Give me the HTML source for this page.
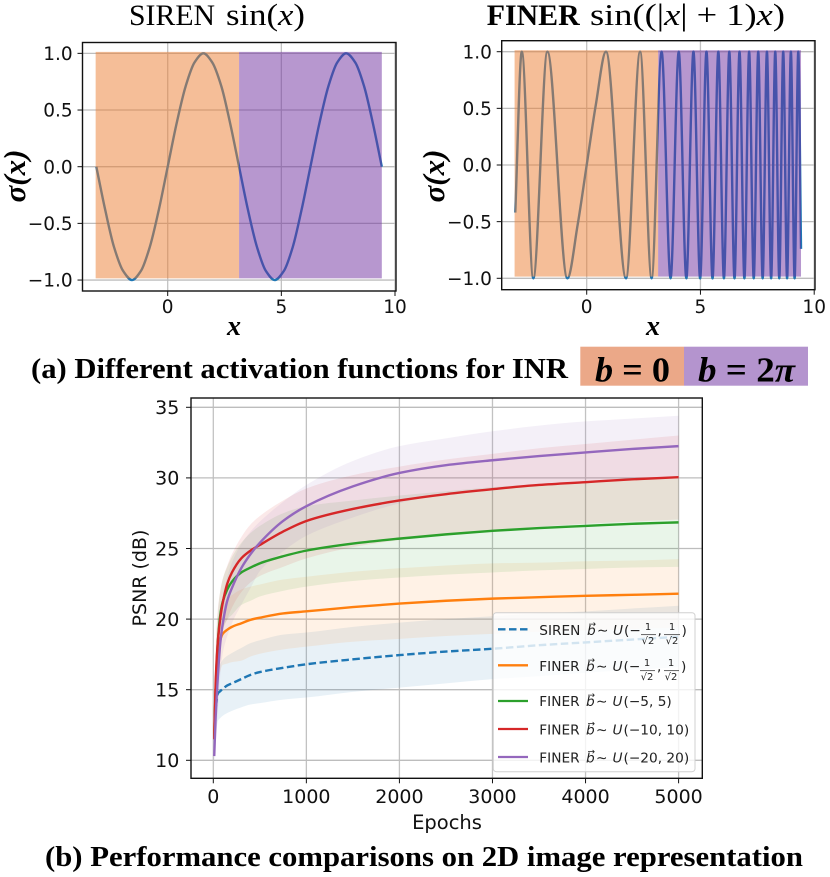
<!DOCTYPE html>
<html lang="en">
<head>
<meta charset="utf-8">
<title>SIREN vs FINER activation functions and PSNR comparison</title>
<style>
html,body{margin:0;padding:0;background:#fff;}
body{width:830px;height:877px;overflow:hidden;}
svg{display:block;filter:blur(0.35px);}
.serif{font-family:"Liberation Serif",serif;fill:#000;}
.dv{font-family:"DejaVu Sans",sans-serif;fill:#111;}
.lg{font-family:"DejaVu Sans",sans-serif;fill:#222;font-size:13.7px;}
.lgi{font-family:"DejaVu Sans",sans-serif;font-style:italic;fill:#222;font-size:13.7px;}
.fr{font-family:"DejaVu Sans",sans-serif;fill:#222;font-size:10px;text-anchor:middle;}
</style>
</head>
<body>
<svg id="figure" width="830" height="877" viewBox="0 0 830 877" xmlns="http://www.w3.org/2000/svg">
  <g id="chart-siren"></g>
  <g id="chart-finer"></g>
  <g id="chart-psnr"></g>

  <text class="serif" x="129" y="25" font-size="30" textLength="86" lengthAdjust="spacingAndGlyphs">SIREN</text>
  <text class="serif" x="226" y="25" font-size="31" textLength="79" lengthAdjust="spacingAndGlyphs">sin(<tspan font-style="italic">x</tspan>)</text>
  <text class="serif" x="486.7" y="25" font-size="30" font-weight="bold" textLength="93" lengthAdjust="spacingAndGlyphs">FINER</text>
  <text class="serif" x="590" y="25" font-size="31" textLength="195" lengthAdjust="spacingAndGlyphs">sin((|<tspan font-style="italic">x</tspan>| + 1)<tspan font-style="italic">x</tspan>)</text>

  <text class="serif" transform="translate(25,176) rotate(-90)" text-anchor="middle" font-size="31" font-weight="bold" font-style="italic">σ(x)</text>
  <text class="serif" transform="translate(444,176) rotate(-90)" text-anchor="middle" font-size="31" font-weight="bold" font-style="italic">σ(x)</text>
  <text class="serif" x="234" y="335" text-anchor="middle" font-size="28" font-weight="bold" font-style="italic">x</text>
  <text class="serif" x="653" y="335" text-anchor="middle" font-size="28" font-weight="bold" font-style="italic">x</text>

  <text class="serif" x="31" y="378" font-size="29" font-weight="bold" textLength="537" lengthAdjust="spacingAndGlyphs">(a) Different activation functions for INR</text>
  <g>
    <rect x="580.3" y="346.7" width="103.7" height="39" fill="#eba888"/>
    <rect x="684" y="346.7" width="124" height="39" fill="#b494ce"/>
    <text class="serif" x="595" y="381.5" font-size="35" font-weight="bold" textLength="75" lengthAdjust="spacingAndGlyphs"><tspan font-style="italic">b</tspan> = 0</text>
    <text class="serif" x="698" y="381.5" font-size="35" font-weight="bold" textLength="97" lengthAdjust="spacingAndGlyphs"><tspan font-style="italic">b</tspan> = 2<tspan font-style="italic">π</tspan></text>
  </g>
  <text class="serif" x="45" y="866" font-size="29" font-weight="bold" textLength="758" lengthAdjust="spacingAndGlyphs">(b) Performance comparisons on 2D image representation</text>

  <text class="dv" transform="translate(146,578) rotate(-90)" text-anchor="middle" font-size="19">PSNR (dB)</text>
  <text class="dv" x="447" y="829" text-anchor="middle" font-size="19.5">Epochs</text>

  <g id="legend">
    <rect x="493.3" y="612.7" width="201.7" height="159" rx="3" fill="#fff" fill-opacity="0.8" stroke="#d0d0d0" stroke-width="1"/>
    <g>
      <line x1="498" x2="528" y1="629.3" y2="629.3" stroke="#1f77b4" stroke-width="2.3" stroke-dasharray="7.5 3.5"/>
      <text class="lg" x="539.3" y="635">SIREN</text>
      <text class="lgi" x="587" y="635">b</text><text class="lg" x="588.5" y="627" style="font-size:9px">→</text>
      <text class="lg" x="597" y="635">∼</text><text class="lgi" x="613" y="635">U</text><text class="lg" x="624" y="635">(−</text>
      <text class="fr" x="648" y="630">1</text><line x1="641" x2="656" y1="634.7" y2="634.7" stroke="#222" stroke-width="0.7"/><text class="fr" x="648" y="644">√2</text>
      <text class="lg" x="657.5" y="635">,</text>
      <text class="fr" x="672" y="630">1</text><line x1="664" x2="680" y1="634.7" y2="634.7" stroke="#222" stroke-width="0.7"/><text class="fr" x="672" y="644">√2</text>
      <text class="lg" x="681.5" y="635">)</text>
    </g>
    <g>
      <line x1="498" x2="528" y1="665.3" y2="665.3" stroke="#ff7f0e" stroke-width="2.3"/>
      <text class="lg" x="539.3" y="671">FINER</text>
      <text class="lgi" x="586" y="671">b</text><text class="lg" x="587.5" y="663" style="font-size:9px">→</text>
      <text class="lg" x="596" y="671">∼</text><text class="lgi" x="612.5" y="671">U</text><text class="lg" x="623.5" y="671">(−</text>
      <text class="fr" x="647" y="666">1</text><line x1="640" x2="655" y1="670.7" y2="670.7" stroke="#222" stroke-width="0.7"/><text class="fr" x="647" y="680">√2</text>
      <text class="lg" x="657" y="671">,</text>
      <text class="fr" x="671" y="666">1</text><line x1="664" x2="679" y1="670.7" y2="670.7" stroke="#222" stroke-width="0.7"/><text class="fr" x="671" y="680">√2</text>
      <text class="lg" x="681" y="671">)</text>
    </g>
    <g>
      <line x1="498" x2="528" y1="701" y2="701" stroke="#2ca02c" stroke-width="2.3"/>
      <text class="lg" x="539.3" y="706">FINER</text>
      <text class="lgi" x="586" y="706">b</text><text class="lg" x="587.5" y="698" style="font-size:9px">→</text>
      <text class="lg" x="596" y="706">∼</text><text class="lgi" x="612.5" y="706">U</text><text class="lg" x="623.5" y="706">(−5, 5)</text>
    </g>
    <g>
      <line x1="498" x2="528" y1="729" y2="729" stroke="#d62728" stroke-width="2.3"/>
      <text class="lg" x="539.3" y="734.3">FINER</text>
      <text class="lgi" x="586" y="734.3">b</text><text class="lg" x="587.5" y="726.3" style="font-size:9px">→</text>
      <text class="lg" x="596" y="734.3">∼</text><text class="lgi" x="612.5" y="734.3">U</text><text class="lg" x="623.5" y="734.3">(−10, 10)</text>
    </g>
    <g>
      <line x1="498" x2="528" y1="757" y2="757" stroke="#9467bd" stroke-width="2.3"/>
      <text class="lg" x="539.3" y="762.3">FINER</text>
      <text class="lgi" x="586" y="762.3">b</text><text class="lg" x="587.5" y="754.3" style="font-size:9px">→</text>
      <text class="lg" x="596" y="762.3">∼</text><text class="lgi" x="612.5" y="762.3">U</text><text class="lg" x="623.5" y="762.3">(−20, 20)</text>
    </g>
  </g>
</svg>
<script>
// ---- activation chart data ----
const activationXTicks = [0, 5, 10];
const activationYTicks = [-1, -0.5, 0, 0.5, 1];
const activationYLabels = ["−1.0", "−0.5", "0.0", "0.5", "1.0"];
const regionEdges = [-3.17, 3.14, 9.42];
const regionTop = 1.013;
const regionBottom = -0.985;
const sirenX = [-3.14,-2.75,-2.36,-1.96,-1.57,-1.18,-0.79,-0.39,0,0.39,0.79,1.18,1.57,1.96,2.36,2.75,3.14,3.53,3.93,4.32,4.71,5.11,5.5,5.89,6.28,6.67,7.07,7.46,7.85,8.25,8.64,9.03,9.42];
const sirenY = [0,-0.38,-0.71,-0.92,-1,-0.92,-0.71,-0.38,0,0.38,0.71,0.92,1,0.92,0.71,0.38,0,-0.38,-0.71,-0.92,-1,-0.92,-0.71,-0.38,0,0.38,0.71,0.92,1,0.92,0.71,0.38,0];
const finerX = [-3.14,-2.853,-2.347,-1.728,-0.849,-0.4,0,0.4,0.849,1.728,2.347,2.853,3.293,3.687,4.046,4.38,4.692,4.986,5.265,5.531,5.786,6.032,6.268,6.497,6.717,6.932,7.14,7.342,7.54,7.734,7.922,8.107,8.288,8.465,8.638,8.808,8.975,9.139,9.3,9.42];
const finerY = [-0.42,1,-1,1,-1,-0.53,0,0.53,1,-1,1,-1,1,-1,1,-1,1,-1,1,-1,1,-1,1,-1,1,-1,1,-1,1,-1,1,-1,1,-1,1,-1,1,-1,1,-0.74];

// ---- PSNR chart data ----
const epochs = [10,25,50,75,100,150,200,300,400,500,750,1000,1500,2000,2500,3000,3500,4000,4500,5000];
const psnrXTicks = [0,1000,2000,3000,4000,5000];
const psnrYTicks = [10,15,20,25,30,35];
const sirenMean = [11.5,13.5,14.75,14.9,15.05,15.3,15.45,15.75,16.05,16.25,16.55,16.8,17.15,17.45,17.7,17.9,18.15,18.35,18.55,18.75];
const sirenLower = [10,11.5,12.8,13,13.15,13.35,13.5,13.75,13.95,14.05,14.3,14.45,14.85,15.15,15.45,15.75,15.95,16.2,16.4,16.6];
const sirenUpper = [13,15.5,16.3,16.8,17.1,17.4,17.6,17.95,18.3,18.5,18.9,19.05,19.45,19.75,20,20.2,20.4,20.55,20.75,20.95];
const orangeMean = [11.5,15,17.5,18.5,18.95,19.25,19.45,19.7,19.95,20.1,20.4,20.55,20.85,21.1,21.3,21.45,21.55,21.65,21.72,21.8];
const orangeLower = [10,13,15.5,16.3,16.75,16.85,16.95,17.05,17.35,17.55,17.85,18.05,18.4,18.6,18.8,18.95,19.1,19.2,19.3,19.4];
const orangeUpper = [13,17,19.5,20.7,21,21.4,21.7,22.1,22.3,22.45,22.8,23,23.35,23.6,23.8,23.95,24,24.1,24.15,24.25];
const greenMean = [11.5,15,18.5,20.3,21.2,22.1,22.65,23.3,23.65,23.95,24.45,24.85,25.35,25.7,26,26.25,26.45,26.6,26.75,26.85];
const greenLower = [10,13,16.5,18.2,19.2,19.95,20.3,21,21.3,21.6,22,22.3,22.7,22.95,23.15,23.3,23.45,23.55,23.65,23.7];
const greenUpper = [13,17.5,20.5,22,22.8,23.7,24.4,25.4,26.1,26.6,27.5,28,28.4,28.75,29.05,29.35,29.55,29.7,29.85,29.95];
const redMean = [11.5,15.5,18.5,20.05,21.1,22.5,23.3,24.3,24.85,25.25,26.2,26.95,27.8,28.4,28.85,29.2,29.5,29.7,29.9,30.05];
const redLower = [10,13.5,16.5,18.2,19.2,20,20.8,21.9,22.6,23.05,23.7,24.3,25.1,25.6,26,26.3,26.55,26.75,26.9,27.05];
const redUpper = [13,18,20.8,22,22.8,23.8,24.6,25.8,26.7,27.3,28.4,29.25,30.2,30.8,31.3,31.7,32.1,32.4,32.7,33];
const purpleMean = [10.3,13,16,18.3,19.6,21.3,22.2,23.6,24.6,25.4,26.95,28,29.4,30.35,30.9,31.25,31.55,31.8,32.05,32.25];
const purpleLower = [9.5,11,13.5,16,17.5,18.8,19.7,21,22.2,23.4,24.8,25.9,27.2,28.2,28.9,29.2,29.5,29.7,29.9,30.1];
const purpleUpper = [11,15,18.5,20.4,21.5,23,24,25.3,26.2,26.9,28.3,29.5,31.2,32.25,32.8,33.3,33.7,34,34.2,34.4];

const NS = "http://www.w3.org/2000/svg";
function mk(parent, tag, attrs, txt) {
  const el = document.createElementNS(NS, tag);
  for (const k in attrs) el.setAttribute(k, attrs[k]);
  if (txt !== undefined) el.textContent = txt;
  parent.appendChild(el);
  return el;
}
function smoothCurves(xs, ys, fx, fy) {
  const n = xs.length, d = [], m = [];
  for (let i = 0; i < n - 1; i++) d.push((ys[i + 1] - ys[i]) / (xs[i + 1] - xs[i]));
  m[0] = d[0]; m[n - 1] = d[n - 2];
  for (let i = 1; i < n - 1; i++) {
    if (d[i - 1] * d[i] <= 0) m[i] = 0;
    else {
      const h0 = xs[i] - xs[i - 1], h1 = xs[i + 1] - xs[i];
      m[i] = (h0 + h1) * 3 / ((2 * h1 + h0) / d[i - 1] + (h1 + 2 * h0) / d[i]);
    }
  }
  let p = "";
  for (let i = 0; i < n - 1; i++) {
    const h = xs[i + 1] - xs[i];
    p += "C" + fx(xs[i] + h / 3).toFixed(2) + " " + fy(ys[i] + m[i] * h / 3).toFixed(2) + " " +
         fx(xs[i + 1] - h / 3).toFixed(2) + " " + fy(ys[i + 1] - m[i + 1] * h / 3).toFixed(2) + " " +
         fx(xs[i + 1]).toFixed(2) + " " + fy(ys[i + 1]).toFixed(2);
  }
  return p;
}
function smoothPath(xs, ys, fx, fy) {
  return "M" + fx(xs[0]).toFixed(2) + " " + fy(ys[0]).toFixed(2) + smoothCurves(xs, ys, fx, fy);
}
function bandPath(xs, lo, up, fx, fy) {
  const rx = xs.slice().reverse(), rl = lo.slice().reverse();
  return smoothPath(xs, up, fx, fy) +
    "L" + fx(rx[0]).toFixed(2) + " " + fy(rl[0]).toFixed(2) +
    smoothCurves(rx, rl, fx, fy) + "Z";
}
function drawGridAndTicks(g, box, fx, fy, xTicks, yTicks, xLabels, yLabels, fs, xBase, yRight) {
  xTicks.forEach(function (v, i) {
    const gl = mk(g, "line", {x1: fx(v), x2: fx(v), y1: box.t, y2: box.b, stroke: "#c2c2c2", "stroke-width": 1.3});
    
    
    const tk = mk(g, "line", {x1: fx(v), x2: fx(v), y1: box.b, y2: box.b + 5, stroke: "#111", "stroke-width": 1});
    
    
    const lb = mk(g, "text", {x: fx(v), y: xBase, "text-anchor": "middle", "font-size": fs, "class": "dv"}, xLabels[i]);
    
    
  });
  yTicks.forEach(function (v, i) {
    const gl = mk(g, "line", {x1: box.l, x2: box.r, y1: fy(v), y2: fy(v), stroke: "#bdbdbd", "stroke-width": 1.3});
    
    
    const tk = mk(g, "line", {x1: box.l - 5, x2: box.l, y1: fy(v), y2: fy(v), stroke: "#111", "stroke-width": 1});
    
    
    const lb = mk(g, "text", {x: yRight, y: fy(v) + fs * 0.36, "text-anchor": "end", "font-size": fs, "class": "dv"}, yLabels[i]);
    
    
  });
}
function drawFrame(g, box) {
  const fr = mk(g, "rect", {x: box.l, y: box.t, width: box.r - box.l, height: box.b - box.t, fill: "none", stroke: "#111", "stroke-width": 1.4});
  
  
}
function drawActivation(id, box, fx, fy, xs, ys) {
  const g = document.getElementById(id);
  drawGridAndTicks(g, box, fx, fy, activationXTicks, activationYTicks, activationXTicks.map(String), activationYLabels, 18.5, 313, 72.7 + (box.l - 82.5));
  const ln = mk(g, "path", {d: smoothPath(xs, ys, fx, fy), fill: "none", stroke: "#1f77b4", "stroke-width": 2.4});
  
  
  const r0 = mk(g, "rect", {x: fx(regionEdges[0]), y: fy(regionTop), width: fx(regionEdges[1]) - fx(regionEdges[0]), height: fy(regionBottom) - fy(regionTop), fill: "#ec7d31", "fill-opacity": 0.5});
  
  
  const r1 = mk(g, "rect", {x: fx(regionEdges[1]), y: fy(regionTop), width: fx(regionEdges[2]) - fx(regionEdges[1]), height: fy(regionBottom) - fy(regionTop), fill: "#7030a0", "fill-opacity": 0.5});
  
  
  drawFrame(g, box);
}
drawActivation("chart-siren", {l: 82.5, r: 396, t: 42.5, b: 291},
  function (v) { return 167.7 + 22.73 * v; }, function (v) { return 166.7 - 113.35 * v; }, sirenX, sirenY);
drawActivation("chart-finer", {l: 501.7, r: 815, t: 40.7, b: 289.7},
  function (v) { return 586.7 + 22.75 * v; }, function (v) { return 165 - 113.3 * v; }, finerX, finerY);

(function () {
  const g = document.getElementById("chart-psnr");
  const box = {l: 191, r: 702.3, t: 398, b: 778.3};
  const fx = function (v) { return 213.3 + 0.09306 * v; };
  const fy = function (v) { return 760.3 - 14.12 * (v - 10); };
  drawGridAndTicks(g, box, fx, fy, psnrXTicks, psnrYTicks, psnrXTicks.map(String), psnrYTicks.map(String), 19, 803, 179.3);
  const series = [
    {name: "siren", c: "#1f77b4", m: sirenMean, lo: sirenLower, up: sirenUpper, dash: "7.5 3.5"},
    {name: "finer-sqrt", c: "#ff7f0e", m: orangeMean, lo: orangeLower, up: orangeUpper},
    {name: "finer-5", c: "#2ca02c", m: greenMean, lo: greenLower, up: greenUpper},
    {name: "finer-10", c: "#d62728", m: redMean, lo: redLower, up: redUpper},
    {name: "finer-20", c: "#9467bd", m: purpleMean, lo: purpleLower, up: purpleUpper}
  ];
  series.forEach(function (s) {
    const band = mk(g, "path", {d: bandPath(epochs, s.lo, s.up, fx, fy), fill: s.c, "fill-opacity": 0.1});
    
    
  });
  series.forEach(function (s) {
    const attrs = {d: smoothPath(epochs, s.m, fx, fy), fill: "none", stroke: s.c, "stroke-width": 2.4};
    if (s.dash) attrs["stroke-dasharray"] = s.dash;
    const ln = mk(g, "path", attrs);
    
    
  });
  drawFrame(g, box);
})();
</script>
</body>
</html>
